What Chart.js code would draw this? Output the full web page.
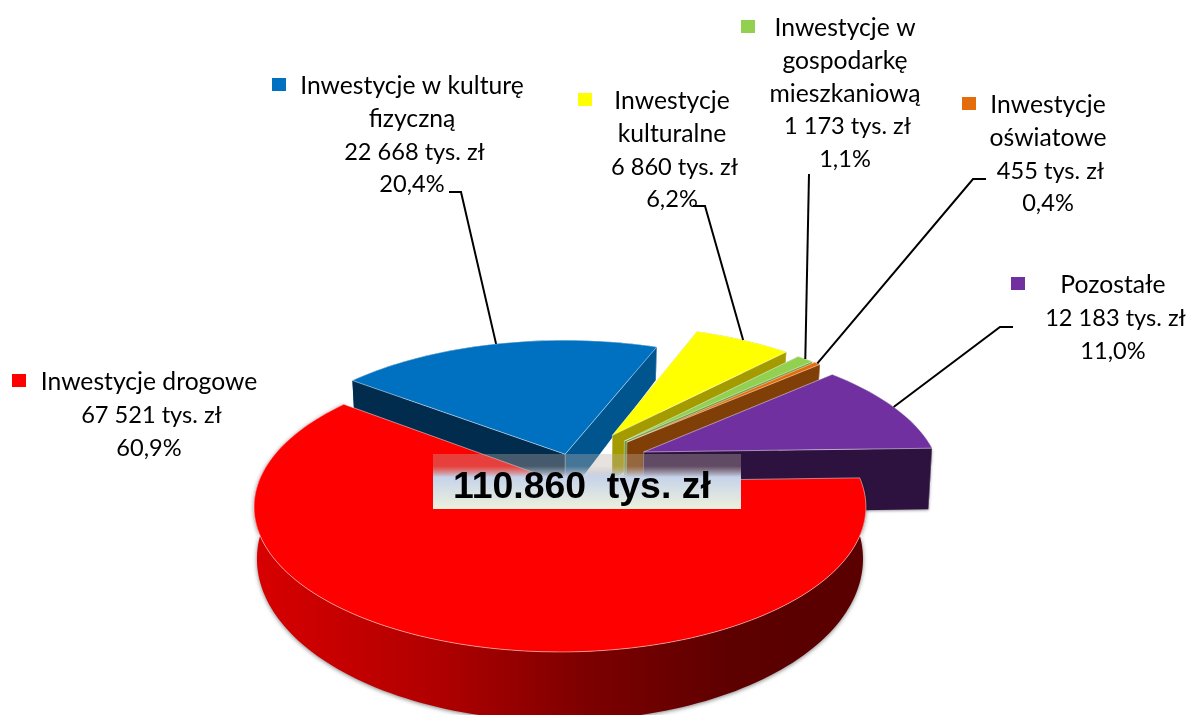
<!DOCTYPE html>
<html>
<head>
<meta charset="utf-8">
<title>Inwestycje</title>
<style>
html, body { margin: 0; padding: 0; background: #fff; overflow: hidden; }
#wrap { position: relative; width: 1186px; height: 715px; }
</style>
<script src="https://cdn.jsdelivr.net/npm/chart.js@4"></script>
</head>
<body>
<div id="wrap"><canvas id="chart" width="1186" height="715"></canvas></div>
<script>
// data, starting from the blue slice so the big red one is painted last
var categories = [
    ['Inwestycje w kulturę', 'fizyczną'],
    ['Inwestycje', 'kulturalne'],
    ['Inwestycje w', 'gospodarkę', 'mieszkaniową'],
    ['Inwestycje', 'oświatowe'],
    ['Pozostałe'],
    ['Inwestycje drogowe']
];
var values = [22668, 6860, 1173, 455, 12183, 67521];
var valueLabels = ['22 668 tys. zł', '6 860 tys. zł', '1 173 tys. zł', '455 tys. zł', '12 183 tys. zł', '67 521 tys. zł'];
var percentLabels = ['20,4%', '6,2%', '1,1%', '0,4%', '11,0%', '60,9%'];
var totalLabel = '110.860  tys. zł';

// slice styles
var topColors = ['#0070c0', '#ffff00', '#92d050', '#e46c0a', '#7030a0', '#ff0000'];
var startWallColors = ['#012c4e', '#a39b00', '#5f8a33', '#7f3f06', '#2d1240', '#8a0000'];
var endWallColors = ['#00558f', '#a39b00', '#6f9a3c', '#7f3f06', '#2d1240', '#8a0000'];
var explode = [25, 81, 78, 78, 80, 39];
var reach = [1.015, 1.03, 1.03, 1.03, 1.0, 1.0];
var wallDrop = [0, 0, 0, 0, 16, 0];
var redWallStops = [[0, '#d80000'], [0.3, '#b00000'], [0.55, '#7c0000'], [0.8, '#5c0000'], [1, '#5a0000']];

// label blocks: centre x, first baseline, marker box
var labelX = [412, 672, 845, 1048, 1113, 149];
var labelY = [94, 109, 36, 113, 293, 390];
var markerX = [272, 578, 741, 962, 1011, 12];
var markerY = [78, 93, 20, 97, 277, 374];
var leaderFrom = [[[449, 192], [461, 192]], [[693, 206], [705, 206]], [[809, 174]], [[986, 179], [973, 179]], [[1013, 327], [1000, 327]], null];

// perspective of the top and bottom faces of the disc
var topPlane = { cx: 560, y: 482, a: 301.4, b: 140.7, p: 0.1724 };
var bottomPlane = { cx: 560, y: 531, a: 298.5, b: 157.2, p: 0.1724 };
var discCentre = [0.04, -0.124];

function project(plane, pt, drop) {
    var w = 1 - plane.p * pt[1];
    return [plane.cx + plane.a * pt[0] / w, plane.y + plane.b * pt[1] / w + (drop || 0)];
}

// point of a slice on the unit disc, angle and explosion come from the arc element
function discPoint(arc, i, angle, r) {
    var p = arc.getProps(['startAngle', 'endAngle', 'outerRadius']);
    var mid = (p.startAngle + p.endAngle) / 2;
    var e = arc.options.offset / p.outerRadius;
    return [
        discCentre[0] + e * Math.cos(mid) + r * reach[i] * Math.cos(angle),
        discCentre[1] + e * Math.sin(mid) + r * reach[i] * Math.sin(angle)
    ];
}

function pathOf(ctx, pts) {
    ctx.beginPath();
    for (var k = 0; k < pts.length; k++) {
        if (k === 0) ctx.moveTo(pts[k][0], pts[k][1]);
        else ctx.lineTo(pts[k][0], pts[k][1]);
    }
    ctx.closePath();
}

class Arc3D extends Chart.ArcElement {
    static id = 'arc3d';

    draw(ctx) {
        var i = this.$context.dataIndex;
        var p = this.getProps(['startAngle', 'endAngle']);
        var steps = Math.max(4, Math.round((p.endAngle - p.startAngle) * 40));
        var apex = discPoint(this, i, 0, 0);
        var topArc = [], lowArc = [];
        for (var k = 0; k <= steps; k++) {
            var a = p.startAngle + (p.endAngle - p.startAngle) * k / steps;
            var q = discPoint(this, i, a, 1);
            topArc.push(project(topPlane, q));
            lowArc.push(project(bottomPlane, q, wallDrop[i]));
        }
        var topApex = project(topPlane, apex);
        var lowApex = project(bottomPlane, apex, wallDrop[i]);
        var seam = 'rgba(255,255,255,0.45)';

        ctx.save();
        ctx.lineJoin = 'round';

        // outer wall
        var isRed = i === topColors.length - 1;
        if (isRed) {
            var grad = ctx.createLinearGradient(256, 0, 860, 0);
            redWallStops.forEach(function (s) { grad.addColorStop(s[0], s[1]); });
            ctx.fillStyle = grad;
            ctx.shadowColor = 'rgba(0,0,0,0.5)';
            ctx.shadowBlur = 4;
            ctx.shadowOffsetY = 1;
        } else {
            ctx.fillStyle = endWallColors[i];
        }
        pathOf(ctx, topArc.concat(lowArc.slice().reverse()));
        ctx.fill();
        ctx.shadowColor = 'transparent';

        if (!isRed) {
            // the two cut walls
            pathOf(ctx, [topApex, topArc[0], lowArc[0], lowApex]);
            ctx.fillStyle = startWallColors[i];
            ctx.fill();
            if (wallDrop[i]) {
                ctx.shadowColor = 'rgba(0,0,0,0.4)';
                ctx.shadowBlur = 3;
                ctx.shadowOffsetY = 1;
            }
            pathOf(ctx, [topApex, topArc[steps], lowArc[steps], lowApex]);
            ctx.fillStyle = endWallColors[i];
            ctx.fill();
            ctx.shadowColor = 'transparent';
            ctx.beginPath();
            ctx.moveTo(topApex[0], topApex[1]);
            ctx.lineTo(lowApex[0], lowApex[1]);
            ctx.moveTo(topArc[steps][0], topArc[steps][1]);
            ctx.lineTo(lowArc[steps][0], lowArc[steps][1]);
            ctx.strokeStyle = seam;
            ctx.lineWidth = 0.8;
            ctx.stroke();
        }

        // top face
        pathOf(ctx, [topApex].concat(topArc));
        ctx.fillStyle = topColors[i];
        ctx.fill();
        ctx.strokeStyle = 'rgba(255,255,255,0.55)';
        ctx.lineWidth = 0.9;
        ctx.stroke();
        ctx.restore();
    }
}

class Pie3D extends Chart.PieController {
    static id = 'pie3d';
    static defaults = { dataElementType: 'arc3d' };
}

Chart.register(Arc3D, Pie3D);

var labelsPlugin = {
    id: 'pieLabels',
    afterDatasetsDraw: function (chart) {
        var ctx = chart.ctx;
        var arcs = chart.getDatasetMeta(0).data;
        ctx.save();

        // leader lines, ending on the middle of each slice's rim
        ctx.strokeStyle = '#000';
        ctx.lineWidth = 2;
        arcs.forEach(function (arc, i) {
            if (!leaderFrom[i]) return;
            var p = arc.getProps(['startAngle', 'endAngle']);
            var tip = project(topPlane, discPoint(arc, i, (p.startAngle + p.endAngle) / 2, 1));
            ctx.beginPath();
            leaderFrom[i].forEach(function (pt, k) {
                if (k === 0) ctx.moveTo(pt[0], pt[1]);
                else ctx.lineTo(pt[0], pt[1]);
            });
            ctx.lineTo(tip[0], tip[1]);
            ctx.stroke();
        });

        // label blocks with their colour markers, digits run wider in Lato
        ctx.textAlign = 'center';
        ctx.textBaseline = 'alphabetic';
        categories.forEach(function (lines, i) {
            ctx.fillStyle = topColors[i];
            ctx.fillRect(markerX[i], markerY[i], 14, 13);
            ctx.fillStyle = '#000';
            var n = lines.length;
            ctx.font = '24.7px Lato';
            lines.forEach(function (row, k) {
                ctx.fillText(row, labelX[i], labelY[i] + k * 32.8);
            });
            ctx.font = '23.6px Lato';
            ctx.fillText(valueLabels[i], labelX[i] + 2.5, labelY[i] + n * 32.8);
            ctx.fillText(percentLabels[i], labelX[i], labelY[i] + (n + 1) * 32.8);
        });

        // total box
        var box = ctx.createLinearGradient(0, 454, 0, 509);
        box.addColorStop(0, 'rgba(190,175,165,0.36)');
        box.addColorStop(0.22, 'rgba(190,175,165,0.36)');
        box.addColorStop(0.42, '#c6d3ea');
        box.addColorStop(1, '#edf1dc');
        ctx.fillStyle = box;
        ctx.fillRect(433, 454, 308, 55);
        ctx.fillStyle = '#000';
        ctx.font = 'bold 37.4px "Liberation Sans"';
        ctx.textAlign = 'left';
        ctx.fillText(totalLabel, 453, 498);
        ctx.restore();
    }
};

function drawChart() {
    var ctx = document.getElementById('chart').getContext('2d');
    new Chart(ctx, {
        type: 'pie3d',
        data: {
            labels: categories.map(function (c) { return c.join(' '); }),
            datasets: [{
                data: values,
                backgroundColor: topColors,
                offset: explode,
                borderWidth: 0
            }]
        },
        options: {
            responsive: false,
            animation: false,
            rotation: 307.6,
            radius: 300,
            layout: { padding: 0 },
            plugins: {
                legend: { display: false },
                tooltip: { enabled: false }
            }
        },
        plugins: [labelsPlugin]
    });
}

Promise.all([document.fonts.load('24.7px Lato')]).then(drawChart, drawChart);
</script>
</body>
</html>
